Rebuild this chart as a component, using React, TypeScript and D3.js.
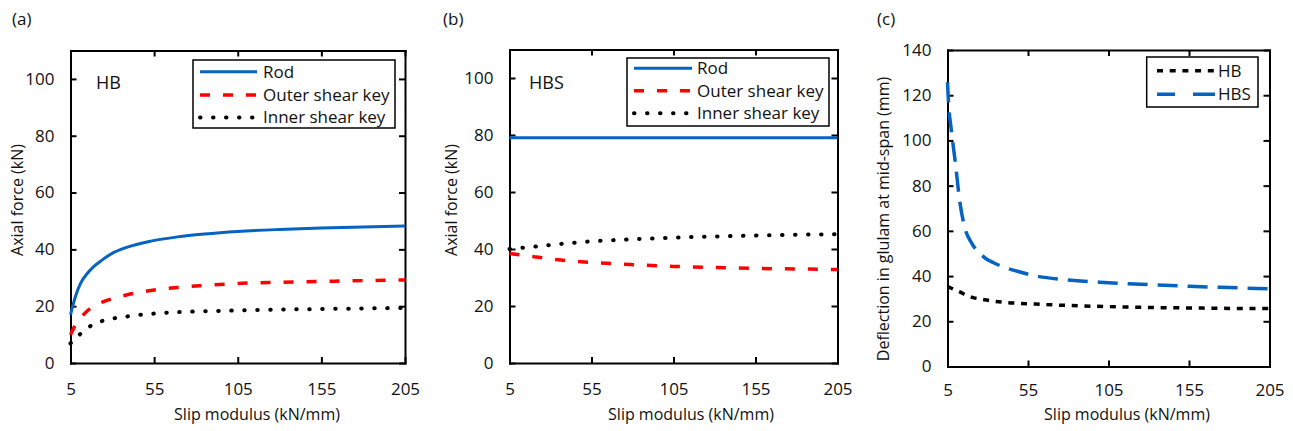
import React, { useEffect, useRef } from 'react';
import * as d3 from 'd3';

const W = 1293;
const H = 431;

// shared axes
const slipTicks = [5, 55, 105, 155, 205];
const forceTicks = [0, 20, 40, 60, 80, 100];
const deflectionTicks = [0, 20, 40, 60, 80, 100, 120, 140];

// (a) HB axial forces (kN) vs slip modulus (kN/mm)
const hbSlip = [5, 8, 11, 15, 19, 24, 29, 39, 53, 69, 85, 105, 130, 155, 180, 205];
const hbRod = [17, 23.5, 28, 31.5, 34, 36.3, 38.3, 40.8, 42.9, 44.4, 45.4, 46.3, 47, 47.5, 47.9, 48.2];
const hbOuter = [9.9, 13.5, 15.8, 18.3, 20, 21.4, 22.5, 24, 25.5, 26.6, 27.3, 28, 28.4, 28.7, 29, 29.2];
const hbInner = [6.9, 8.8, 10.3, 12.3, 13.6, 14.8, 15.5, 16.4, 17.3, 17.9, 18.2, 18.5, 18.8, 19, 19.2, 19.4];

// (b) HBS axial forces
const hbsSlip = [5, 20, 35, 55, 80, 105, 130, 155, 180, 205];
const hbsRod = [79, 79, 79, 79, 79, 79, 79, 79, 79, 79];
const hbsOuter = [38.4, 37.3, 36.2, 35.3, 34.5, 33.9, 33.5, 33.2, 33, 32.8];
const hbsInner = [40, 40.8, 41.7, 42.7, 43.4, 44, 44.4, 44.7, 45, 45.2];

// (c) deflection at mid-span (mm)
const deflHbSlip = [5, 11.8, 20, 28, 38.8, 59.5, 80, 105, 130, 155, 180, 205];
const deflHb = [35.4, 33.2, 30.7, 29.5, 28.5, 27.6, 27, 26.5, 26.1, 25.9, 25.7, 25.6];
const deflHbsSlip = [5, 5.6, 7.3, 10, 12.5, 15.6, 20.1, 27.3, 36.7, 47, 59.5, 80, 105, 130, 155, 180, 205];
const deflHbs = [125.7, 117, 105, 89.4, 73.6, 61.8, 54.5, 48.6, 44.9, 42.4, 40.1, 38.3, 37.1, 36.2, 35.5, 34.9, 34.4];

const BLUE = '#0563c1';
const RED = '#ff0000';
const INK = '#111';
const FONT = "'Open Sans', 'DejaVu Sans', sans-serif";

const rodStyle = { color: BLUE, width: 3, dash: null, cap: 'butt' };
const outerStyle = { color: RED, width: 3.5, dash: '10 13', cap: 'butt' };
const innerStyle = { color: '#000', width: 4, dash: '0.5 12.5', cap: 'round' };
const hbDefStyle = { color: '#000', width: 3.5, dash: '6 6.7', cap: 'butt' };
const hbsDefStyle = { color: BLUE, width: 3.5, dash: '20 10', cap: 'butt' };

const panels = [
  {
    tag: '(a)', tagX: 12,
    left: 70.5, right: 405, top: 50.5, bottom: 363, yMax: 110, yTicks: forceTicks, pad: 20,
    yTitle: 'Axial force (kN)', yTitleX: 23, yTitleY: 200, xTitleX: 257,
    inset: 'HB', insetX: 96,
    series: [
      { xs: hbSlip, ys: hbRod, style: rodStyle },
      { xs: hbSlip, ys: hbOuter, style: outerStyle },
      { xs: hbSlip, ys: hbInner, style: innerStyle },
    ],
    legend: {
      x: 193, y: 60, w: 202, h: 68, lx1: 200, lx2: 257, tx: 263,
      rows: [
        { label: 'Rod', y: 71.7, style: rodStyle },
        { label: 'Outer shear key', y: 95, style: outerStyle },
        { label: 'Inner shear key', y: 117.5, style: innerStyle },
      ],
    },
  },
  {
    tag: '(b)', tagX: 443,
    left: 509.5, right: 837.5, top: 49.5, bottom: 363, yMax: 110, yTicks: forceTicks, pad: 20,
    yTitle: 'Axial force (kN)', yTitleX: 457, yTitleY: 200, xTitleX: 691,
    inset: 'HBS', insetX: 529,
    series: [
      { xs: hbsSlip, ys: hbsRod, style: rodStyle },
      { xs: hbsSlip, ys: hbsOuter, style: outerStyle },
      { xs: hbsSlip, ys: hbsInner, style: innerStyle },
    ],
    legend: {
      x: 627, y: 58, w: 202, h: 68, lx1: 634, lx2: 692, tx: 697,
      rows: [
        { label: 'Rod', y: 68.3, style: rodStyle },
        { label: 'Outer shear key', y: 90.7, style: outerStyle },
        { label: 'Inner shear key', y: 113.3, style: innerStyle },
      ],
    },
  },
  {
    tag: '(c)', tagX: 877,
    left: 947.5, right: 1269.5, top: 50, bottom: 366.5, yMax: 140, yTicks: deflectionTicks, pad: 17,
    yTitle: 'Deflection in glulam at mid-span (mm)', yTitleX: 889, yTitleY: 219, xTitleX: 1127,
    inset: null, insetX: 0,
    series: [
      { xs: deflHbSlip, ys: deflHb, style: hbDefStyle },
      { xs: deflHbsSlip, ys: deflHbs, style: hbsDefStyle },
    ],
    legend: {
      x: 1146.7, y: 57, w: 111.3, h: 50, lx1: 1157, lx2: 1215, tx: 1218,
      rows: [
        { label: 'HB', y: 70.7, style: hbDefStyle },
        { label: 'HBS', y: 94.3, style: { ...hbsDefStyle, dash: '18 18 23' } },
      ],
    },
  },
];

function styleAxis(g) {
  g.select('.domain').attr('stroke', '#000').attr('stroke-width', 2).attr('stroke-linecap', 'square').attr('fill', 'none');
  g.selectAll('.tick line').attr('stroke', '#000').attr('stroke-width', 2);
  g.selectAll('.tick text').attr('fill', INK).style('font-family', FONT).style('font-size', '17px');
}

function drawPanel(svg, p) {
  const x = d3.scaleLinear().domain([5, 205]).range([p.left, p.right]);
  const y = d3.scaleLinear().domain([0, p.yMax]).range([p.bottom, p.top]);

  svg.append('text').attr('x', p.tagX).attr('y', 25).text(p.tag)
    .style('font-family', FONT).style('font-size', '17px').attr('fill', INK);

  // frame: inside ticks on all four sides
  svg.append('g').attr('transform', `translate(0,${p.bottom})`)
    .call(d3.axisBottom(x).tickValues(slipTicks).tickSize(-6).tickSizeOuter(0).tickPadding(p.pad))
    .call(styleAxis);
  svg.append('g').attr('transform', `translate(0,${p.top})`)
    .call(d3.axisTop(x).tickValues(slipTicks).tickSize(-6).tickSizeOuter(0).tickFormat(() => ''))
    .call(styleAxis);
  svg.append('g').attr('transform', `translate(${p.left},0)`)
    .call(d3.axisLeft(y).tickValues(p.yTicks).tickSize(-6).tickSizeOuter(0).tickPadding(16))
    .call(styleAxis);
  svg.append('g').attr('transform', `translate(${p.right},0)`)
    .call(d3.axisRight(y).tickValues(p.yTicks).tickSize(-6).tickSizeOuter(0).tickFormat(() => ''))
    .call(styleAxis);

  const line = d3.line()
    .x(d => x(d[0]))
    .y(d => y(d[1]))
    .curve(d3.curveMonotoneX);

  p.series.forEach(s => {
    svg.append('path')
      .datum(d3.zip(s.xs, s.ys))
      .attr('d', line)
      .attr('fill', 'none')
      .attr('stroke', s.style.color)
      .attr('stroke-width', s.style.width)
      .attr('stroke-dasharray', s.style.dash)
      .attr('stroke-linecap', s.style.cap);
  });

  // axis titles
  svg.append('text')
    .attr('x', p.xTitleX).attr('y', 420)
    .attr('text-anchor', 'middle')
    .style('font-family', FONT).style('font-size', '16px').attr('fill', INK)
    .text('Slip modulus (kN/mm)');
  svg.append('text')
    .attr('transform', `translate(${p.yTitleX},${p.yTitleY}) rotate(-90)`)
    .attr('text-anchor', 'middle')
    .style('font-family', FONT).style('font-size', '16px').attr('fill', INK)
    .text(p.yTitle);

  if (p.inset) {
    svg.append('text').attr('x', p.insetX).attr('y', 89).text(p.inset)
      .style('font-family', FONT).style('font-size', '18px').attr('fill', INK);
  }

  const lg = p.legend;
  svg.append('rect')
    .attr('x', lg.x).attr('y', lg.y).attr('width', lg.w).attr('height', lg.h)
    .attr('fill', '#fff').attr('stroke', '#000').attr('stroke-width', 1.5);
  lg.rows.forEach(r => {
    svg.append('line')
      .attr('x1', lg.lx1).attr('x2', lg.lx2).attr('y1', r.y).attr('y2', r.y)
      .attr('stroke', r.style.color)
      .attr('stroke-width', r.style.width)
      .attr('stroke-dasharray', r.style.dash)
      .attr('stroke-linecap', r.style.cap);
    svg.append('text')
      .attr('x', lg.tx).attr('y', r.y).attr('dy', '0.35em')
      .style('font-family', FONT).style('font-size', '17px').attr('fill', INK)
      .text(r.label);
  });
}

export default function App() {
  const ref = useRef(null);

  useEffect(() => {
    const svg = d3.select(ref.current);
    svg.selectAll('*').remove();
    panels.forEach(p => drawPanel(svg, p));
  }, []);

  return (
    <svg
      ref={ref}
      width={W}
      height={H}
      style={{ position: 'absolute', left: 0, top: 0, background: '#fff' }}
    />
  );
}
